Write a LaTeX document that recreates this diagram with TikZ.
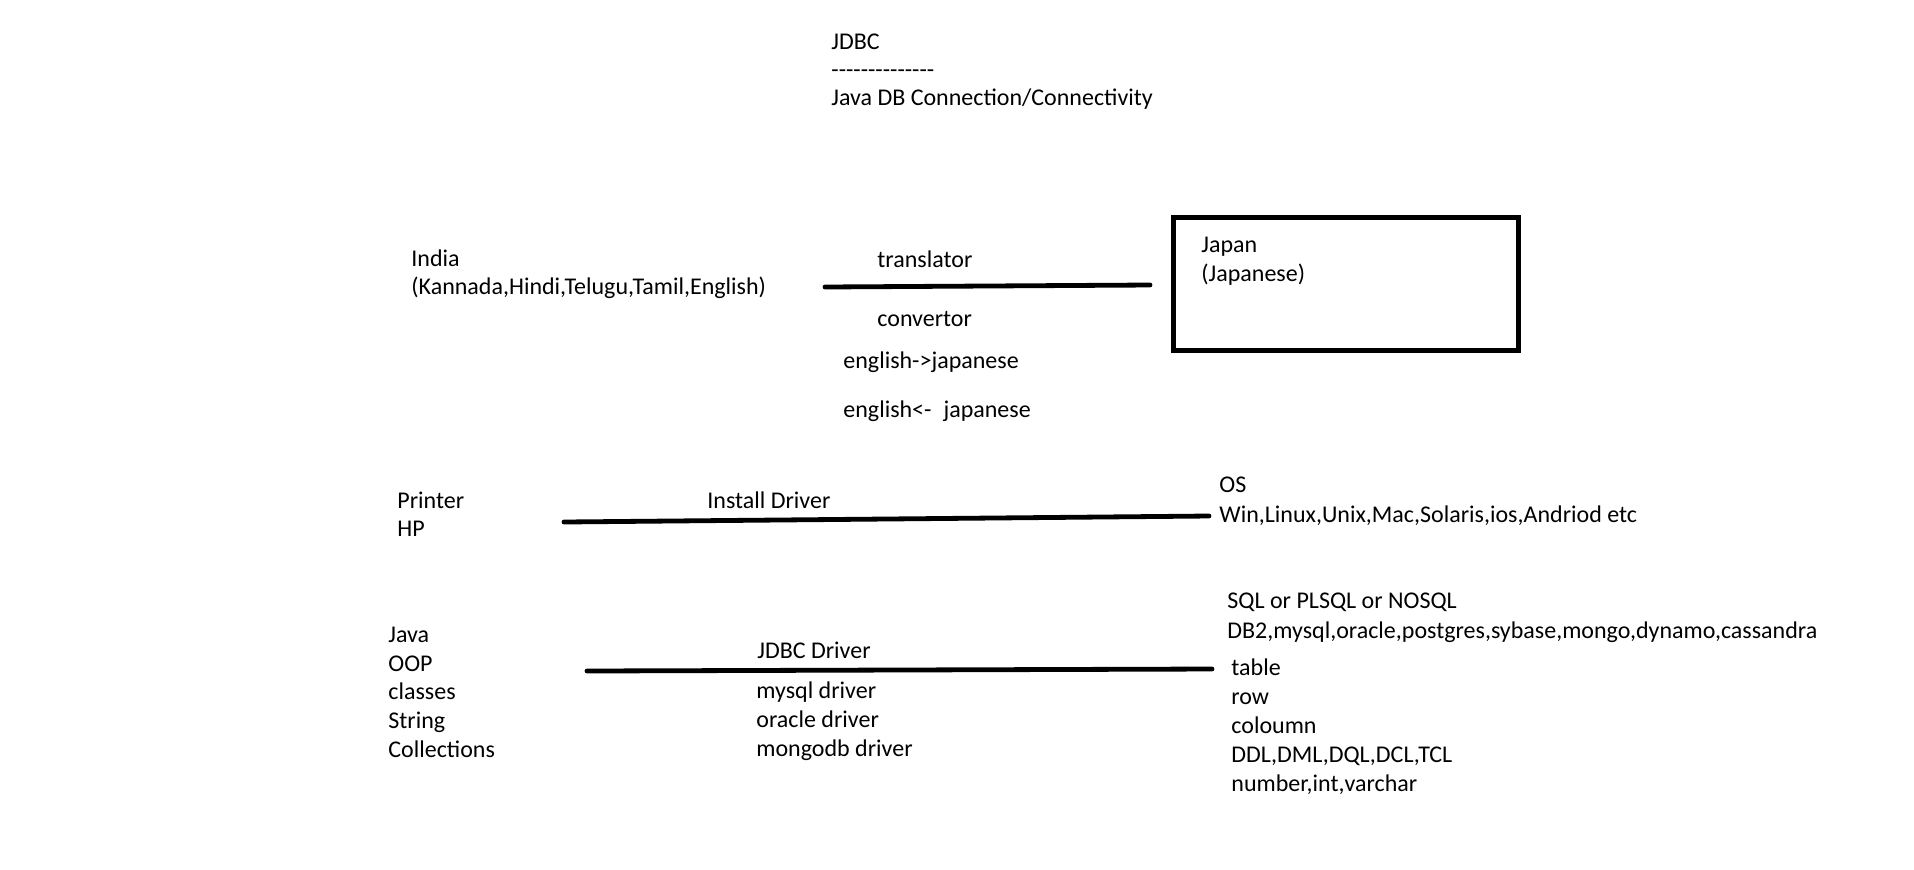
\documentclass[tikz,border=0pt]{standalone}
\usepackage{fontspec}
\setmainfont{Carlito}
\newcommand{\hy}{\mbox{-}}
\tikzset{ t/.style = { anchor = base west % plain text
        , inner sep = 0pt
        , font = \fontsize{12}{14}\selectfont
        }
        , b/.style = { rectangle % framed box
        , draw
        , line width = 2.5pt
        , inner sep = 0pt
        }
        }

\begin{document}
\begin{tikzpicture}[x=0.5pt, y=-0.5pt,
        line_style/.style={draw=black, line width=2.4pt, line cap=round}]
        \useasboundingbox (0,0) rectangle (1914,869);

        \node [t](title) at (831,49) {JDBC};
        \node [t](rule) at (831,77) {\hy\hy\hy\hy\hy\hy\hy\hy\hy\hy\hy\hy\hy\hy};
        \node [t](subtitle) at (831,105) {Java DB Connection/Connectivity};

        \node [t](india) at (411,266) {India};
        \node [t](langs) at (411,294) {(Kannada,Hindi,Telugu,Tamil,English)};
        \node [t](translator) at (877,267) {translator};
        \node [t](convertor) at (877,326) {convertor};
        \node [t](entoja) at (843,368) {english->japanese};
        \node [t](jatoen) at (843,417) {english<-\hspace{6pt}japanese};
        \node [b,minimum width=172.5pt,minimum height=66.5pt](japanbox) at (1346,284) {};
        \node [t](japan) at (1201,252) {Japan};
        \node [t](japanese) at (1201,281) {(Japanese)};
        \coordinate (tr1) at (825,287);
        \coordinate (tr2) at (1150,285);
        \draw [line_style] (tr1) -- (tr2);

        \node [t](printer) at (397,508) {Printer};
        \node [t](hp) at (397,536) {HP};
        \node [t](install) at (707,508) {Install Driver};
        \node [t](os) at (1219,492) {OS};
        \node [t](oslist) at (1219,522) {Win,Linux,Unix,Mac,Solaris,ios,Andriod etc};
        \coordinate (pr1) at (564,522);
        \coordinate (pr2) at (1209,516);
        \draw [line_style] (pr1) -- (pr2);

        \node [t](java) at (388,642) {Java};
        \node [t](oop) at (388,671) {OOP};
        \node [t](classes) at (388,699) {classes};
        \node [t](string) at (388,728) {String};
        \node [t](collections) at (388,757) {Collections};
        \node [t](jdbcdriver) at (757,658) {JDBC Driver};
        \node [t](mysql) at (756,698) {mysql driver};
        \node [t](oracle) at (756,727) {oracle driver};
        \node [t](mongodb) at (756,756) {mongodb driver};
        \node [t](sql) at (1227,608) {SQL or PLSQL or NOSQL};
        \node [t](dbs) at (1227,638) {DB2,mysql,oracle,postgres,sybase,mongo,dynamo,cassandra};
        \node [t](table) at (1231,675) {table};
        \node [t](row) at (1231,704) {row};
        \node [t](coloumn) at (1231,733) {coloumn};
        \node [t](ddl) at (1231,762) {DDL,DML,DQL,DCL,TCL};
        \node [t](types) at (1231,791) {number,int,varchar};
        \coordinate (jd1) at (587,671);
        \coordinate (jd2) at (1212,669);
        \draw [line_style] (jd1) -- (jd2);

\end{tikzpicture}
\end{document}
